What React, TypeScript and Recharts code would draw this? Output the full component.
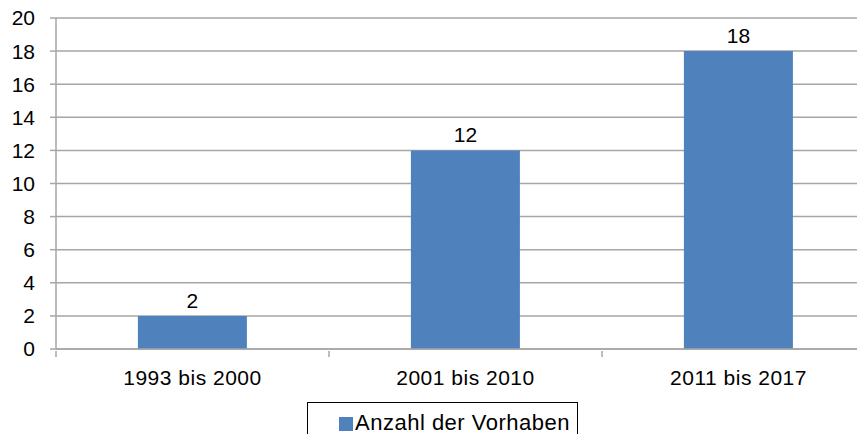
import { BarChart, Bar, XAxis, YAxis, CartesianGrid, Legend, LabelList } from 'recharts';

const periods = ['1993 bis 2000', '2001 bis 2010', '2011 bis 2017'];
const vorhaben = [2, 12, 18];
const yTicks = [0, 2, 4, 6, 8, 10, 12, 14, 16, 18, 20];

const data = periods.map((p, i) => ({ period: p, vorhaben: vorhaben[i] }));

const FONT = '"Liberation Sans", Arial, sans-serif';
const GRID = '#a6a6a6';
const BLUE = '#4f81bd';

function PeriodTick(props: any) {
  const { x, y, payload } = props;
  const half = payload && payload.offset ? payload.offset : 136.5;
  return (
    <g>
      <line x1={x - half} y1={y - 6} x2={x - half} y2={y} stroke={GRID} strokeWidth={1.5} />
      <text x={x} y={y + 13} dy="0.71em" textAnchor="middle" fontSize={21} letterSpacing={0.5} fontFamily={FONT} fill="#000">
        {payload.value}
      </text>
    </g>
  );
}

function LegendBox() {
  return (
    <div style={{ textAlign: 'center' }}>
      <div
        style={{
          display: 'inline-block',
          border: '1px solid #000',
          height: 40,
          width: 271,
          boxSizing: 'border-box',
          paddingLeft: 31,
          textAlign: 'left',
          fontFamily: FONT,
          fontSize: 22,
          letterSpacing: 0.5,
          lineHeight: '40px',
          color: '#000',
          marginLeft: 10,
          whiteSpace: 'nowrap',
        }}
      >
        <span style={{ display: 'inline-block', width: 14, height: 14, background: BLUE, marginRight: 2, verticalAlign: -1 }} />
        Anzahl der Vorhaben
      </div>
    </div>
  );
}

export default function App() {
  return (
    <div style={{ margin: -8, width: 865, height: 442, overflow: 'hidden', position: 'relative', background: '#fff' }}>
      <BarChart width={875} height={442} data={data} margin={{ top: 18, right: 0, bottom: 0, left: 0 }} barCategoryGap="30%">
        <CartesianGrid horizontal vertical={false} stroke={GRID} strokeWidth={1.5} />
        <XAxis
          dataKey="period"
          height={53}
          axisLine={{ stroke: GRID, strokeWidth: 1.5 }}
          tickLine={false}
          tick={<PeriodTick />}
          interval={0}
        />
        <YAxis
          width={56}
          domain={[0, 20]}
          ticks={yTicks}
          interval={0}
          axisLine={{ stroke: GRID, strokeWidth: 1.5 }}
          tickLine={{ stroke: GRID, strokeWidth: 1.5 }}
          tickSize={6}
          tickMargin={15}
          tick={{ fontSize: 21, fontFamily: FONT, fill: '#000' }}
        />
        <Legend verticalAlign="bottom" content={<LegendBox />} />
        <Bar dataKey="vorhaben" name="Anzahl der Vorhaben" fill={BLUE} isAnimationActive={false}>
          <LabelList dataKey="vorhaben" position="top" offset={8} fontSize={21} fontFamily={FONT} fill="#000" />
        </Bar>
      </BarChart>
    </div>
  );
}
